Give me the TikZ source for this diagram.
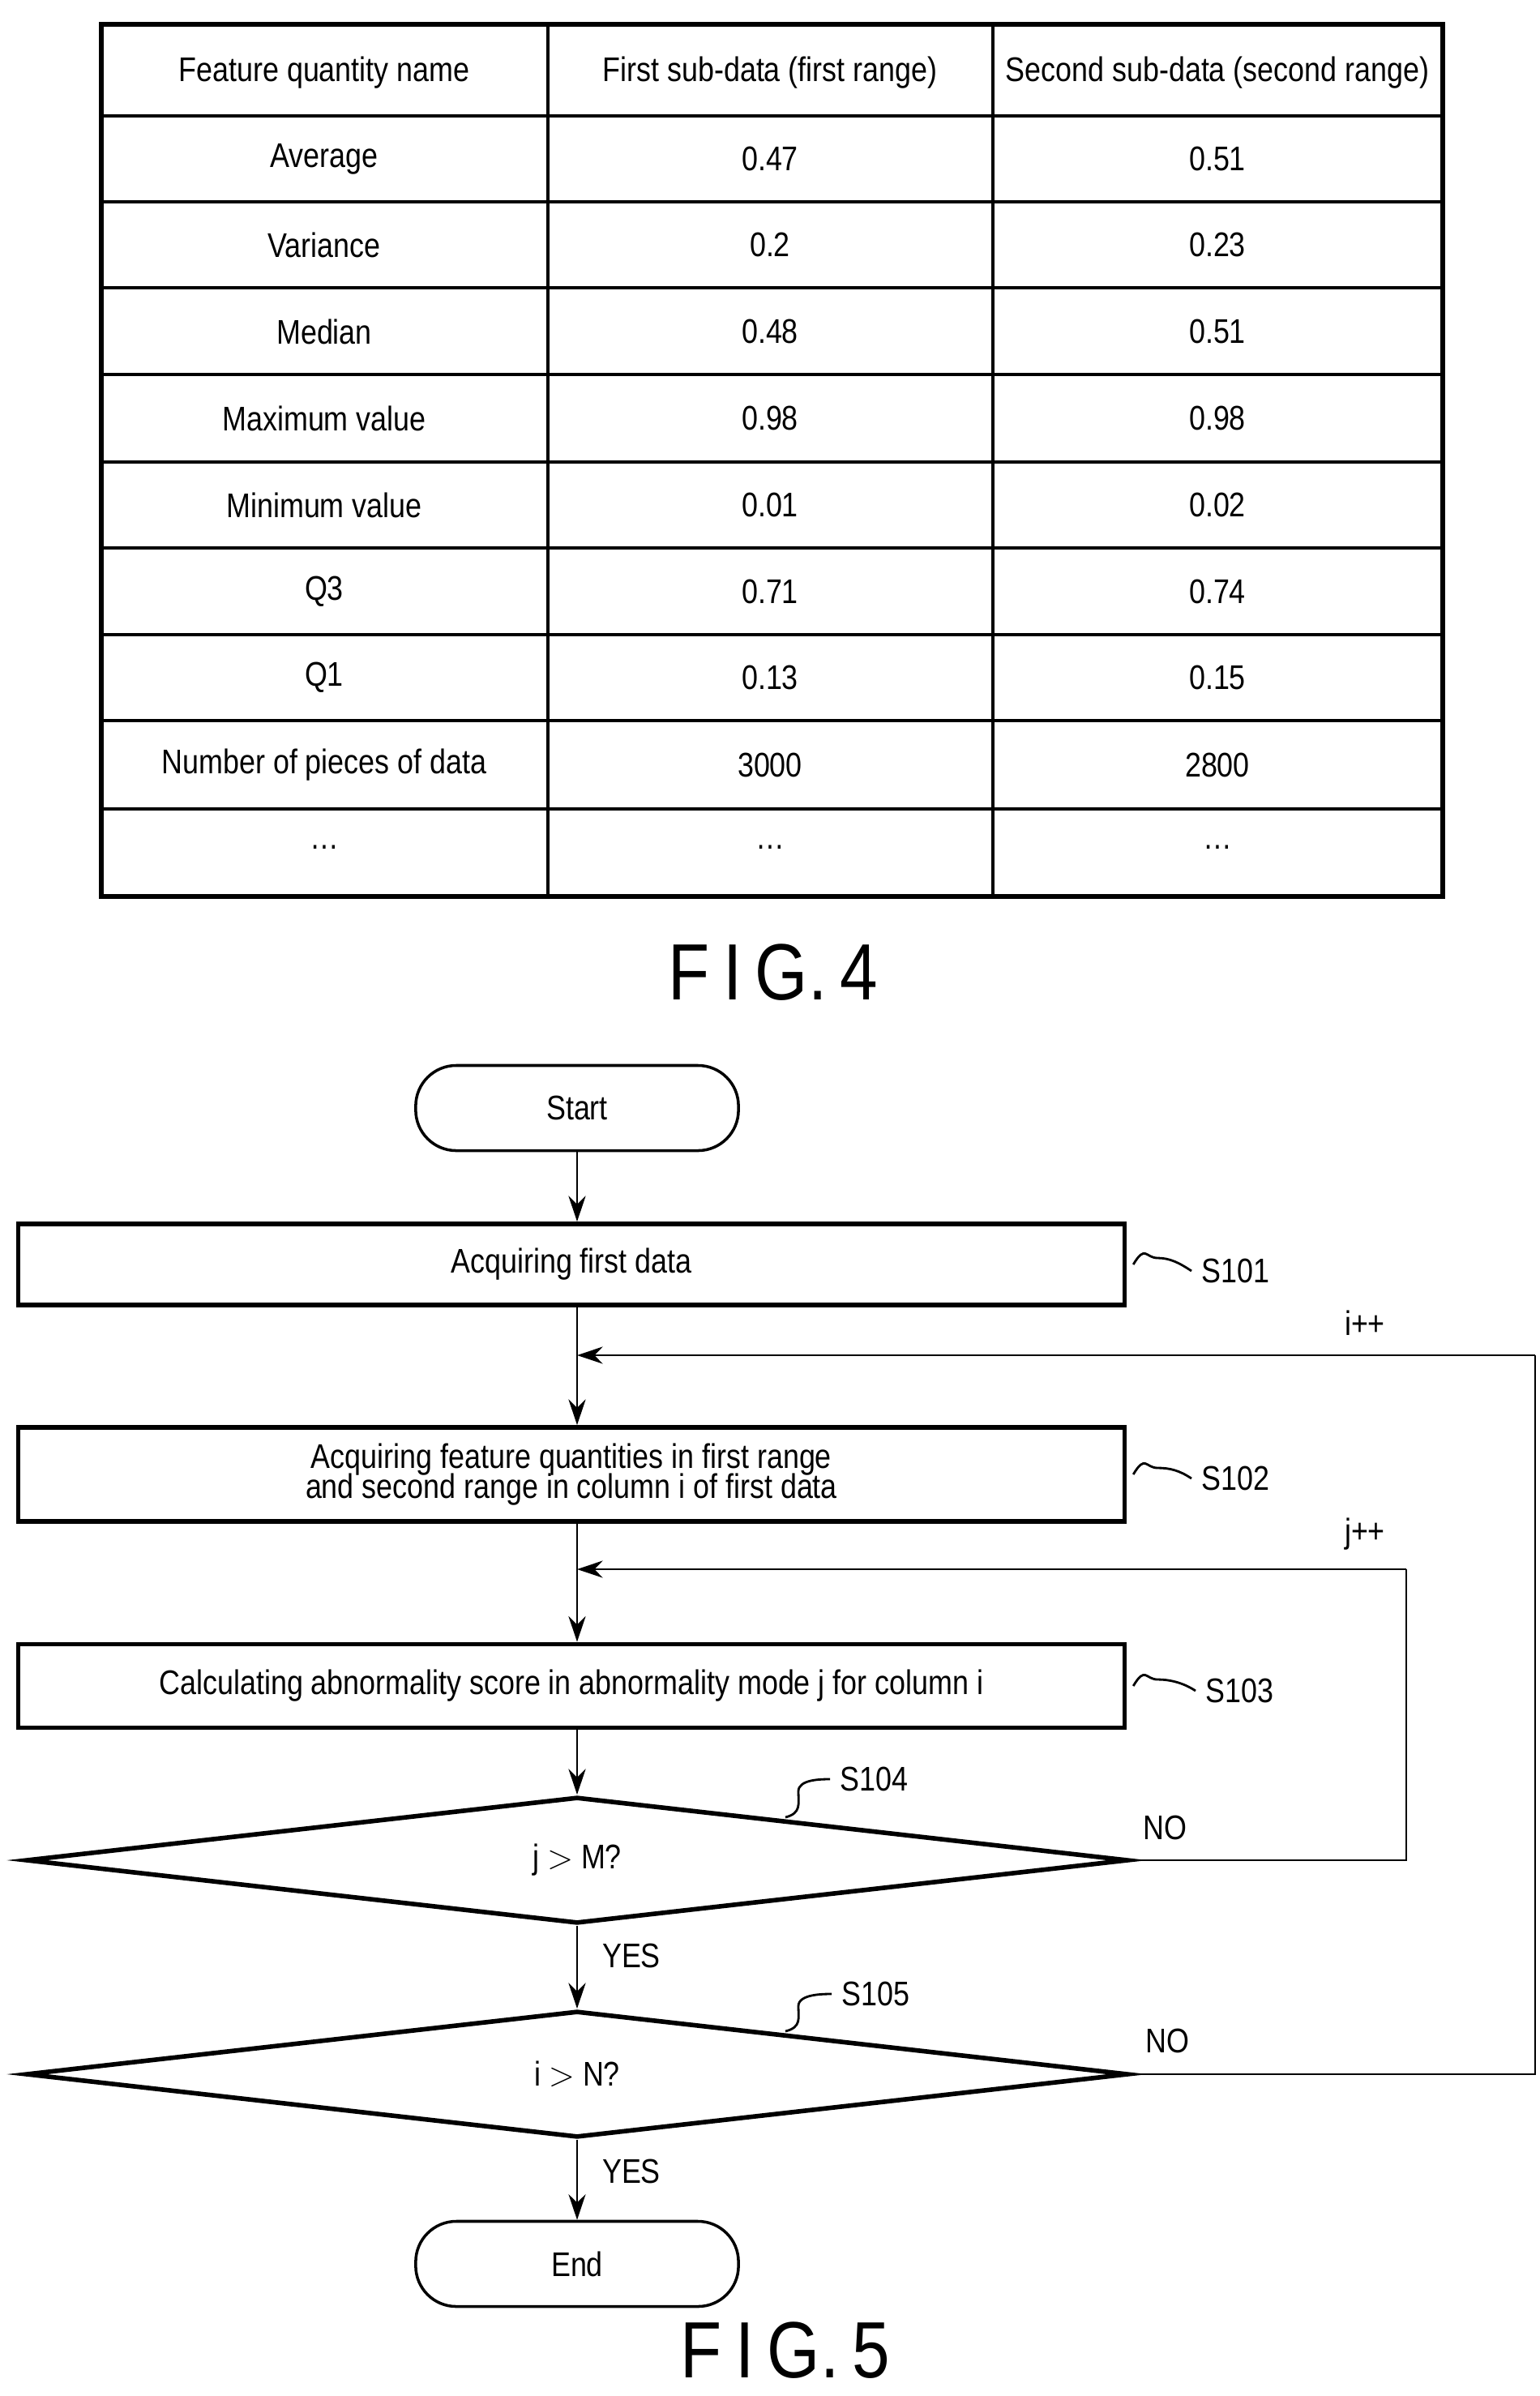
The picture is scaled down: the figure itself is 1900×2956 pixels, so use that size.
\documentclass[tikz,border=0pt]{standalone}
\usepackage{fontspec}
\setmainfont[FakeStretch=0.85]{Liberation Sans}
\usetikzlibrary{arrows.meta,shapes.geometric}
\begin{document}
\begin{tikzpicture}[x=0.01cm,y=-0.01cm,
  txt/.style={font=\fontsize{12}{13.5}\selectfont},
  box/.style={draw,line width=1.6pt,minimum height=1cm,inner sep=0pt,txt},
  term/.style={draw,line width=1pt,rounded corners=0.5cm,minimum width=3.98cm,minimum height=1.05cm,txt},
  arr/.style={line width=0.8pt,-{Stealth[length=9pt,width=6pt]}},
  ln/.style={line width=0.8pt},
  fig/.style={font=\fontsize{28}{30}\selectfont}]
\useasboundingbox (0,0) rectangle (1900,2956);
% table
\draw[line width=1.8pt] (125,30) rectangle (1780,1106);
\foreach \y in {143,249,355,462,570,676,783,889,998} \draw[line width=1pt] (125,\y)--(1780,\y);
\draw[line width=1pt] (676,30)--(676,1106) (1225,30)--(1225,1106);
\node[txt] (h1) at (400,90) {Feature quantity name};
\node[txt] (h2) at (950,90) {First sub-data (first range)};
\node[txt] (h3) at (1502,90) {Second sub-data (second range)};
\foreach \n/\a/\b/\c [count=\k] in {196/Average/0.47/0.51,302/Variance/0.2/0.23,409/Median/0.48/0.51,516/Maximum value/0.98/0.98,623/Minimum value/0.01/0.02,730/Q3/0.71/0.74,836/Q1/0.13/0.15,944/Number of pieces of data/3000/2800,1045/\dots/\dots/\dots}{
  \node[txt] (r\k a) at (400,\n) {\a};
  \node[txt] (r\k b) at (950,\n) {\b};
  \node[txt] (r\k c) at (1502,\n) {\c};
}
\node[fig] (f4) at (954,1200) {F\,I\,G.\,4};
% flowchart
\node[term] (start) at (712,1367) {Start};
\node[box,minimum width=13.64cm] (s1) at (705,1560) {Acquiring first data};
\node[box,minimum width=13.64cm,minimum height=1.16cm,align=center] (s2) at (705,1819) {Acquiring feature quantities in first range\\[-3pt]and second range in column i of first data};
\node[box,minimum width=13.64cm,minimum height=1.03cm] (s3) at (705,2080) {Calculating abnormality score in abnormality mode j for column i};
\node[draw,diamond,aspect=8.7,line width=1.6pt,minimum width=13.59cm,minimum height=1.56cm,inner sep=0pt,txt] (d1) at (712,2295) {j $>$ M?};
\node[draw,diamond,aspect=8.7,line width=1.6pt,minimum width=13.59cm,minimum height=1.56cm,inner sep=0pt,txt] (d2) at (712,2559) {i $>$ N?};
\node[term] (end) at (712,2793) {End};
\node[fig] (f5) at (969,2900) {F\,I\,G.\,5};
% connectors
\coordinate (ji) at (712,1672);
\coordinate (jj) at (712,1936);
\coordinate (ri) at (1894,1672);
\coordinate (rj) at (1735,1936);
\draw[arr] (start) -- (s1.north -| start);
\draw[arr] (s1.south -| start) -- (s2.north -| start);
\draw[arr] (s2.south -| start) -- (s3.north -| start);
\draw[arr] (s3.south -| start) -- (d1.north);
\draw[arr] (d1.south) -- (d2.north);
\draw[arr] (d2.south) -- (end.north);
\draw[ln] (d1.east) -| (rj);
\draw[arr] (rj) -- (jj);
\draw[ln] (d2.east) -| (ri);
\draw[arr] (ri) -- (ji);
\node[txt] (ipp) at (1684,1632) {i++};
\node[txt] (jpp) at (1684,1893) {j++};
\node[txt] (no1) at (1437,2255) {NO};
\node[txt] (no2) at (1440,2518) {NO};
\node[txt] (yes1) at (779,2413) {YES};
\node[txt] (yes2) at (779,2679) {YES};
% step labels
\node[txt,anchor=west] (l1) at (1470,1568) {S101};
\node[txt,anchor=west] (l2) at (1470,1824) {S102};
\node[txt,anchor=west] (l3) at (1475,2086) {S103};
\node[txt,anchor=west] (l4) at (1024,2195) {S104};
\node[txt,anchor=west] (l5) at (1026,2460) {S105};
\foreach \s/\l in {s1/l1,s2/l2,s3/l3}{
  \draw[ln] (\s.east) ++(8,0) .. controls +(15,-25) and +(-15,0) .. ++(30,-8) .. controls +(15,0) and +(-15,-10) .. (\l.west);
}
\draw[ln] (969,2242) .. controls +(20,-5) and +(0,15) .. (985,2210) .. controls +(0,-15) and +(-10,0) .. (l4.west);
\draw[ln] (969,2506) .. controls +(20,-5) and +(0,15) .. (985,2475) .. controls +(0,-15) and +(-10,0) .. (l5.west);
\end{tikzpicture}
\end{document}
